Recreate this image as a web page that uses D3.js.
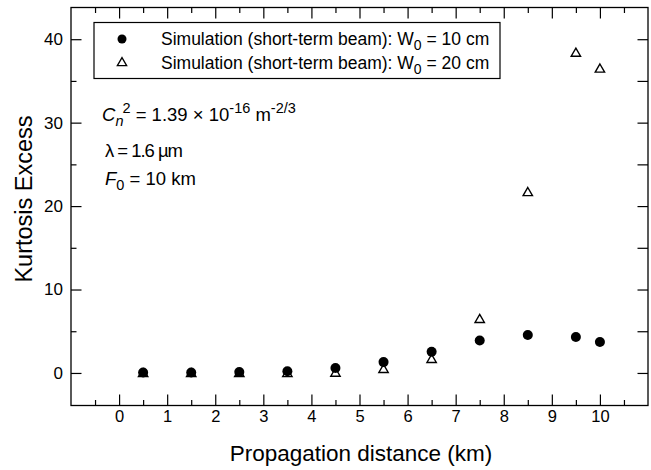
<!DOCTYPE html>
<html lang="en">
<head>
<meta charset="UTF-8">
<title>Kurtosis excess vs propagation distance</title>
<style>
  body { margin: 0; background: #fff; }
  text { font-family: "Liberation Sans", Arial, sans-serif; fill: #000; }
</style>
</head>
<body>
<div id="chart"></div>
<script src="https://d3js.org/d3.v7.min.js"></script>
<script>
  // data
  const distW10 = [0.5, 1.5, 2.5, 3.5, 4.5, 5.5, 6.5, 7.5, 8.5, 9.5, 10];
  const kurtW10 = [0.05, 0.05, 0.1, 0.2, 0.6, 1.3, 2.55, 3.9, 4.55, 4.3, 3.7];
  const distW20 = [0.5, 1.5, 2.5, 3.5, 4.5, 5.5, 6.5, 7.5, 8.5, 9.5, 10];
  const kurtW20 = [0, 0, 0, 0, 0.05, 0.5, 1.7, 6.5, 21.7, 38.4, 36.5];
  const xTicks = [0, 1, 2, 3, 4, 5, 6, 7, 8, 9, 10];
  const yTicks = [0, 10, 20, 30, 40];

  const W = 651, H = 470;
  const margin = {top: 7.5, right: 3, bottom: 64.5, left: 71};
  const width = W - margin.left - margin.right;
  const height = H - margin.top - margin.bottom;
  const font = "Liberation Sans, Arial, sans-serif";

  const svg = d3.select("#chart").append("svg")
    .attr("width", W)
    .attr("height", H);

  const x = d3.scaleLinear().domain([-1, 11]).range([0, width]);
  const y = d3.scaleLinear().domain([-3.9, 43.8]).range([height, 0]);

  const g = svg.append("g")
    .attr("transform", `translate(${margin.left},${margin.top})`);

  // ticks: all pointing inward
  const xMinor = d3.range(-0.5, 11, 1);
  const yMinor = d3.range(0, 44, 5).filter(v => v % 10 !== 0);

  g.append("g")
    .attr("transform", `translate(0,${height})`)
    .call(d3.axisBottom(x).tickValues(xTicks).tickSize(-11).tickPadding(5).tickFormat(d3.format("d")))
    .call(a => a.select(".domain").remove())
    .call(a => a.selectAll("text").attr("font-size", 16.5).attr("font-family", font));
  g.append("g")
    .attr("transform", `translate(0,${height})`)
    .call(d3.axisBottom(x).tickValues(xMinor).tickSize(-5.5).tickFormat(""))
    .call(a => a.select(".domain").remove());

  g.append("g")
    .call(d3.axisTop(x).tickValues(xTicks).tickSize(-11).tickFormat(""))
    .call(a => a.select(".domain").remove());
  g.append("g")
    .call(d3.axisTop(x).tickValues(xMinor).tickSize(-5.5).tickFormat(""))
    .call(a => a.select(".domain").remove());

  g.append("g")
    .call(d3.axisLeft(y).tickValues(yTicks).tickSize(-10.5).tickPadding(8).tickFormat(d3.format("d")))
    .call(a => a.select(".domain").remove())
    .call(a => a.selectAll("text").attr("font-size", 17).attr("font-family", font));
  g.append("g")
    .call(d3.axisLeft(y).tickValues(yMinor).tickSize(-5.5).tickFormat(""))
    .call(a => a.select(".domain").remove());

  g.append("g")
    .attr("transform", `translate(${width},0)`)
    .call(d3.axisRight(y).tickValues(yTicks.concat(yMinor)).tickSize(-10.5).tickFormat(""))
    .call(a => a.select(".domain").remove());

  g.selectAll(".tick line").attr("stroke", "#000").attr("stroke-width", 1.2);

  // frame
  g.append("rect")
    .attr("width", width).attr("height", height)
    .attr("fill", "none").attr("stroke", "#000").attr("stroke-width", 1.3);

  // series W0 = 20 cm (open triangles)
  const tri = d3.symbol().type(d3.symbolTriangle).size(38);
  g.selectAll(".tri")
    .data(distW20.map((d, i) => ({x: d, y: kurtW20[i]})))
    .join("path")
    .attr("class", "tri")
    .attr("d", tri)
    .attr("transform", d => `translate(${x(d.x)},${y(d.y) + 1})`)
    .attr("fill", "#fff").attr("stroke", "#000").attr("stroke-width", 1.4);

  // series W0 = 10 cm (filled circles)
  g.selectAll(".dot")
    .data(distW10.map((d, i) => ({x: d, y: kurtW10[i]})))
    .join("circle")
    .attr("class", "dot")
    .attr("cx", d => x(d.x))
    .attr("cy", d => y(d.y))
    .attr("r", 5)
    .attr("fill", "#000");

  // axis titles
  svg.append("text")
    .attr("x", 361)
    .attr("y", 461)
    .attr("text-anchor", "middle")
    .attr("font-size", 22.5)
    .text("Propagation distance (km)");
  svg.append("text")
    .attr("transform", "translate(32,199) rotate(-90)")
    .attr("text-anchor", "middle")
    .attr("font-size", 23.5)
    .text("Kurtosis Excess");

  // legend
  const leg = svg.append("g");
  leg.append("rect")
    .attr("x", 94).attr("y", 22.5).attr("width", 406).attr("height", 56)
    .attr("fill", "#fff").attr("stroke", "#000").attr("stroke-width", 1.2);
  leg.append("circle").attr("cx", 122).attr("cy", 39).attr("r", 4.5).attr("fill", "#000");
  leg.append("path").attr("d", tri)
    .attr("transform", "translate(122,63)")
    .attr("fill", "#fff").attr("stroke", "#000").attr("stroke-width", 1.3);
  const legText = [["Simulation (short-term beam): W", "0", " = 10 cm"],
                   ["Simulation (short-term beam): W", "0", " = 20 cm"]];
  legText.forEach((t, i) => {
    const tx = leg.append("text").attr("x", 161).attr("y", 45 + i * 23.5).attr("font-size", 17.5);
    tx.append("tspan").text(t[0]);
    tx.append("tspan").attr("dy", 5).attr("font-size", 14).text(t[1]);
    tx.append("tspan").attr("dy", -5).text(t[2]);
  });

  // annotation
  const ann = svg.append("g").attr("font-size", 18.5);
  const l1 = ann.append("text").attr("x", 102).attr("y", 121);
  l1.append("tspan").attr("font-style", "italic").text("C");
  l1.append("tspan").attr("font-style", "italic").attr("dy", 5).attr("font-size", 14.5).text("n");
  l1.append("tspan").attr("dx", -1).attr("dy", -13).attr("font-size", 14.5).text("2");
  l1.append("tspan").attr("dy", 8).text(" = 1.39 \u00d7 10");
  l1.append("tspan").attr("dy", -8).attr("font-size", 14.5).text("-16");
  l1.append("tspan").attr("dy", 8).text(" m");
  l1.append("tspan").attr("dy", -8).attr("font-size", 14.5).text("-2/3");

  ann.append("text").attr("x", 105).attr("y", 157)
    .attr("textLength", 78).attr("lengthAdjust", "spacing")
    .text("\u03bb = 1.6 \u00b5m");

  const l3 = ann.append("text").attr("x", 105).attr("y", 185);
  l3.append("tspan").attr("font-style", "italic").text("F");
  l3.append("tspan").attr("dy", 5).attr("font-size", 14.5).text("0");
  l3.append("tspan").attr("dy", -5).text(" = 10 km");
</script>
</body>
</html>
